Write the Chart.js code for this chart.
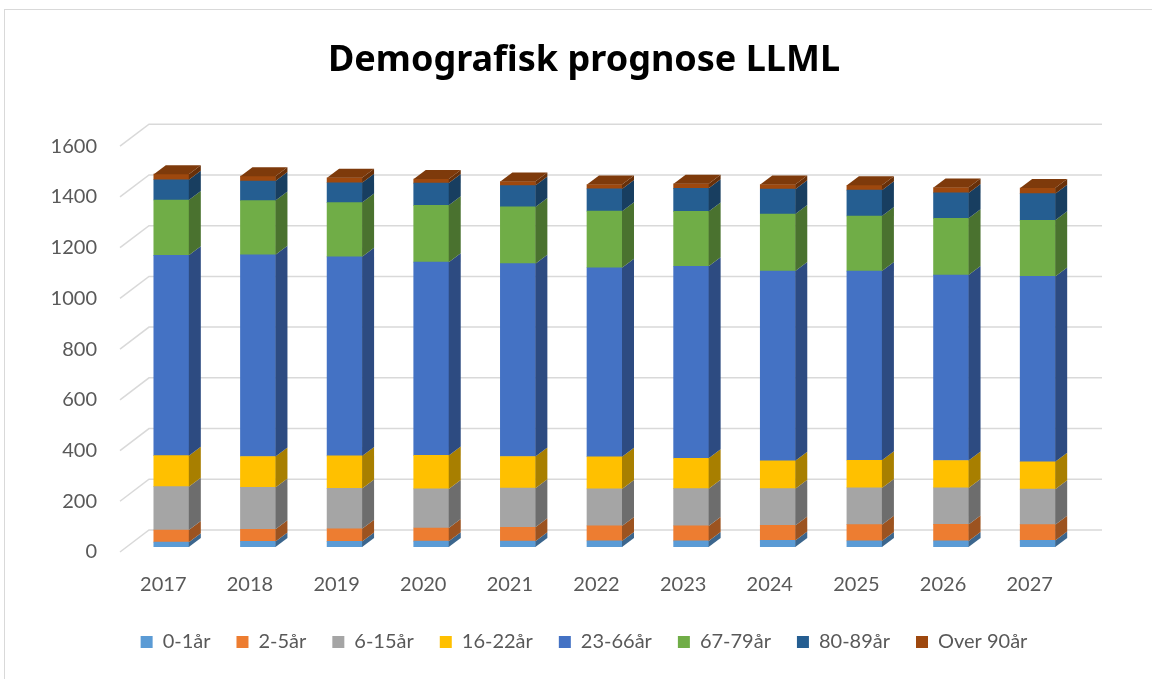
<!DOCTYPE html>
<html>
<head>
<meta charset="utf-8">
<script src="https://cdn.jsdelivr.net/npm/chart.js@4/dist/chart.umd.min.js"></script>
<style>
    html, body { margin: 0; padding: 0; background: #fff; }
    #wrap { width: 1152px; height: 679px; }
</style>
</head>
<body>
<div id="wrap"><canvas id="chart"></canvas></div>
<script>
const years = ['2017', '2018', '2019', '2020', '2021', '2022', '2023', '2024', '2025', '2026', '2027'];

const age0_1   = [19, 22, 22, 23, 23, 24, 24, 26, 24, 24, 26];
const age2_5   = [48, 48, 50, 52, 55, 59, 59, 59, 64, 65, 62];
const age6_15  = [171, 165, 159, 154, 154, 146, 147, 145, 145, 144, 140];
const age16_22 = [122, 122, 128, 132, 125, 127, 120, 110, 109, 108, 108];
const age23_66 = [790, 795, 785, 762, 760, 745, 757, 748, 746, 731, 731];
const age67_79 = [218, 214, 214, 224, 224, 223, 216, 225, 217, 224, 221];
const age80_89 = [80, 77, 78, 88, 84, 88, 91, 98, 102, 100, 105];
const age90    = [22, 19, 20, 16, 16, 17, 18, 18, 19, 21, 22];

const seriesNames  = ['0-1år', '2-5år', '6-15år', '16-22år', '23-66år', '67-79år', '80-89år', 'Over 90år'];
const seriesValues = [age0_1, age2_5, age6_15, age16_22, age23_66, age67_79, age80_89, age90];
const seriesColors = ['#5B9BD5', '#ED7D31', '#A5A5A5', '#FFC000', '#4472C4', '#70AD47', '#255E91', '#9E480E'];

const yTicksMax = 1600;
const yStep = 200;

// farge-hjelper for 3D-sidene
function shade(hex, f) {
    const n = parseInt(hex.slice(1), 16);
    const r = Math.round(((n >> 16) & 255) * f);
    const g = Math.round(((n >> 8) & 255) * f);
    const b = Math.round((n & 255) * f);
    return `rgb(${r},${g},${b})`;
}

const depth = { dx: 12, dy: -9 };   // dybde på søylene
const wall = { dx: 21, dy: -17 };   // bakvegg i forhold til søylefronten

const frame = {
    id: 'frame',
    beforeDraw(chart) {
        const ctx = chart.ctx;
        ctx.save();
        ctx.fillStyle = '#ffffff';
        ctx.fillRect(0, 0, chart.width, chart.height);
        ctx.strokeStyle = '#d9d9d9';
        ctx.lineWidth = 1;
        ctx.strokeRect(4.5, 9.5, chart.width + 10, chart.height + 10);
        ctx.restore();
    }
};

const backWall = {
    id: 'backWall',
    beforeDatasetsDraw(chart) {
        const { ctx, chartArea, scales } = chart;
        const y = scales.y;
        ctx.save();
        ctx.strokeStyle = '#d9d9d9';
        ctx.lineWidth = 1.5;
        y.ticks.forEach(t => {
            const py = y.getPixelForValue(t.value);
            ctx.beginPath();
            ctx.moveTo(chartArea.left - 8, py + 5);
            ctx.lineTo(chartArea.left + wall.dx, py + wall.dy);
            ctx.lineTo(chartArea.right + wall.dx, py + wall.dy);
            ctx.stroke();
        });
        ctx.restore();
    }
};

const bars3d = {
    id: 'bars3d',
    afterDatasetsDraw(chart) {
        const ctx = chart.ctx;
        const last = chart.data.datasets.length - 1;
        ctx.save();
        chart.data.datasets.forEach((ds, i) => {
            const meta = chart.getDatasetMeta(i);
            meta.data.forEach(bar => {
                const top = Math.min(bar.y, bar.base);
                const bottom = Math.max(bar.y, bar.base);
                const left = bar.x - bar.width / 2;
                const right = bar.x + bar.width / 2;
                // side
                ctx.fillStyle = shade(ds.backgroundColor, 0.66);
                ctx.beginPath();
                ctx.moveTo(right, top);
                ctx.lineTo(right + depth.dx, top + depth.dy);
                ctx.lineTo(right + depth.dx, bottom + depth.dy);
                ctx.lineTo(right, bottom);
                ctx.closePath();
                ctx.fill();
                // topp
                if (i === last) {
                    ctx.fillStyle = shade(ds.backgroundColor, 0.8);
                    ctx.beginPath();
                    ctx.moveTo(left, top);
                    ctx.lineTo(left + depth.dx, top + depth.dy);
                    ctx.lineTo(right + depth.dx, top + depth.dy);
                    ctx.lineTo(right, top);
                    ctx.closePath();
                    ctx.fill();
                }
            });
        });
        ctx.restore();
    }
};

const datasets = seriesNames.map((name, i) => ({
    label: name,
    data: seriesValues[i],
    backgroundColor: seriesColors[i],
    borderWidth: 0,
    barThickness: 35
}));

new Chart(document.getElementById('chart'), {
    type: 'bar',
    data: { labels: years, datasets: datasets },
    options: {
        responsive: true,
        maintainAspectRatio: false,
        animation: false,
        layout: { padding: { top: 9, right: 0, bottom: 17, left: 16 } },
        scales: {
            x: {
                stacked: true,
                grid: { display: false, drawTicks: false },
                border: { display: false },
                afterFit: s => { s.height = 59; },
                ticks: {
                    color: '#595959',
                    font: { family: 'Lato', size: 20 },
                    padding: 26,
                    labelOffset: -8
                }
            },
            y: {
                stacked: true,
                min: 0,
                max: yTicksMax,
                grid: { display: false, drawTicks: false },
                border: { display: false },
                afterFit: s => { s.width = 112; },
                ticks: {
                    stepSize: yStep,
                    color: '#595959',
                    font: { family: 'Lato', size: 20 },
                    padding: 31,
                    labelOffset: 5,
                    callback: v => String(v)
                }
            },
            yRight: {
                position: 'right',
                display: true,
                grid: { display: false, drawTicks: false },
                border: { display: false },
                ticks: { display: false },
                afterFit: s => { s.width = 71; }
            }
        },
        plugins: {
            title: {
                display: true,
                text: 'Demografisk prognose LLML',
                color: '#000000',
                font: { family: "'Comic Sans MS', 'Noto Sans'", size: 36, weight: 'bold' },
                padding: { top: 30, bottom: 59 }
            },
            legend: {
                position: 'bottom',
                labels: {
                    color: '#595959',
                    font: { family: 'Lato', size: 20 },
                    boxWidth: 12,
                    boxHeight: 12,
                    padding: 26
                }
            },
            tooltip: { enabled: false }
        }
    },
    plugins: [frame, backWall, bars3d]
});
</script>
</body>
</html>
